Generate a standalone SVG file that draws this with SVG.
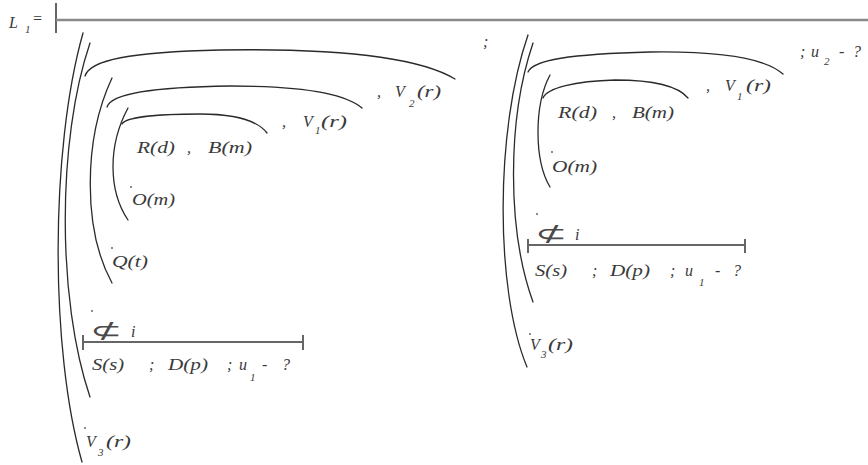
<svg xmlns="http://www.w3.org/2000/svg" width="868" height="465" viewBox="0 0 868 465">
<style>
  .t { font-family: "Liberation Serif", "DejaVu Serif", serif; font-style: italic; font-size: 16px; fill: #3a3a3a; }
  .s { font-family: "Liberation Serif", "DejaVu Serif", serif; font-style: italic; font-size: 11px; fill: #3a3a3a; }
  .sym { font-family: "DejaVu Sans", "Liberation Serif", sans-serif; font-style: italic; font-size: 22px; fill: #4a4a4a; }
  .arc { fill: none; stroke: #2a2a2a; stroke-width: 1.3; stroke-linecap: round; }
  .bar { fill: none; stroke: #666; stroke-width: 2; }
  .dot { fill: #555; }
</style>
<rect width="868" height="465" fill="#ffffff"/>

<g id="header">
  <text class="t" x="9" y="28" font-size="20">L</text>
  <text class="s" x="25" y="33">1</text>
  <text class="t" x="32" y="24" fill="#999">=</text>
  <line class="bar" x1="56" y1="3" x2="56" y2="33"/>
  <line x1="56" y1="20" x2="868" y2="20" stroke="#8a8a8a" stroke-width="2.5"/>
</g>

<g id="connectors">
  <!-- left structure -->
  <path class="arc" d="M83,33 C50,150 50,350 82,462"/>
  <path class="arc" d="M90,43 C57,140 57,300 90,397"/>
  <path class="arc" d="M85,76 C90,60 130,52 220,50 C340,48 420,58 455,79"/>
  <path class="arc" d="M112,78 C83,140 83,230 112,283"/>
  <path class="arc" d="M107,107 C111,94 150,87 230,86 C300,86 345,93 362,108"/>
  <path class="arc" d="M128,108 C108,145 108,190 128,220"/>
  <path class="arc" d="M122,124 C126,117 160,114 200,114 C235,114 257,120 267,133"/>
  <path class="bar" d="M83,342 H303 M83,335 V350 M303,335 V350"/>
  <!-- right structure -->
  <path class="arc" d="M528,35 C495,130 495,290 527,367"/>
  <path class="arc" d="M533,43 C507,120 507,230 533,302"/>
  <path class="arc" d="M528,72 C533,60 570,54 650,52 C720,51 765,58 783,74"/>
  <path class="arc" d="M550,75 C534,105 534,160 550,187"/>
  <path class="arc" d="M543,98 C547,88 575,81 615,80 C655,80 678,86 688,98"/>
  <path class="bar" d="M528,245 H745 M528,239 V253 M745,239 V253"/>
</g>

<g id="left-clause">
  <g id="l-v2">
    <text class="t" x="377" y="97">,</text>
    <text class="t" x="395" y="97">V</text>
    <text class="s" x="409" y="107">2</text>
    <text class="t" x="417" y="97" textLength="24" lengthAdjust="spacingAndGlyphs">(r)</text>
  </g>
  <g id="l-v1">
    <text class="t" x="282" y="127">,</text>
    <text class="t" x="303" y="127">V</text>
    <text class="s" x="315" y="134">1</text>
    <text class="t" x="321" y="127" textLength="26" lengthAdjust="spacingAndGlyphs">(r)</text>
  </g>
  <g id="l-rb">
    <text class="t" x="137" y="153" textLength="38" lengthAdjust="spacingAndGlyphs">R(d)</text>
    <text class="t" x="187" y="153">,</text>
    <text class="t" x="208" y="153" textLength="44" lengthAdjust="spacingAndGlyphs">B(m)</text>
  </g>
  <g id="l-om">
    <circle class="dot" cx="131" cy="187" r="0.9"/>
    <text class="t" x="132" y="205" textLength="43" lengthAdjust="spacingAndGlyphs">O(m)</text>
  </g>
  <g id="l-qt">
    <circle class="dot" cx="112" cy="248" r="0.9"/>
    <text class="t" x="112" y="267" textLength="36" lengthAdjust="spacingAndGlyphs">Q(t)</text>
  </g>
  <g id="l-nsub">
    <circle class="dot" cx="92" cy="311" r="0.9"/>
    <text class="sym" x="90" y="338" textLength="32" lengthAdjust="spacingAndGlyphs">⊄</text>
    <text class="t" x="131" y="337">i</text>
  </g>
  <g id="l-sd">
    <text class="t" x="92" y="370" textLength="32" lengthAdjust="spacingAndGlyphs">S(s)</text>
    <text class="t" x="149" y="370">;</text>
    <text class="t" x="168" y="370" textLength="40" lengthAdjust="spacingAndGlyphs">D(p)</text>
    <text class="t" x="227" y="370">;</text>
    <text class="t" x="239" y="370">u</text>
    <text class="s" x="250" y="381">1</text>
    <text class="t" x="262" y="370">-</text>
    <text class="t" x="282" y="370">?</text>
  </g>
  <g id="l-v3">
    <circle class="dot" cx="85" cy="428" r="0.9"/>
    <text class="t" x="86" y="447">V</text>
    <text class="s" x="98" y="456">3</text>
    <text class="t" x="106" y="447" textLength="25" lengthAdjust="spacingAndGlyphs">(r)</text>
  </g>
</g>

<g id="separator">
  <text class="t" x="483" y="47" fill="#888">;</text>
</g>

<g id="right-clause">
  <g id="r-u2">
    <text class="t" x="800" y="57">;</text>
    <text class="t" x="811" y="57">u</text>
    <text class="s" x="824" y="65">2</text>
    <text class="t" x="839" y="57">-</text>
    <text class="t" x="853" y="57">?</text>
  </g>
  <g id="r-v1">
    <text class="t" x="706" y="91">,</text>
    <text class="t" x="725" y="91">V</text>
    <text class="s" x="737" y="100">1</text>
    <text class="t" x="746" y="91" textLength="25" lengthAdjust="spacingAndGlyphs">(r)</text>
  </g>
  <g id="r-rb">
    <text class="t" x="558" y="118" textLength="39" lengthAdjust="spacingAndGlyphs">R(d)</text>
    <text class="t" x="612" y="118">,</text>
    <text class="t" x="632" y="118" textLength="42" lengthAdjust="spacingAndGlyphs">B(m)</text>
  </g>
  <g id="r-om">
    <circle class="dot" cx="552" cy="152" r="0.9"/>
    <text class="t" x="552" y="172" textLength="45" lengthAdjust="spacingAndGlyphs">O(m)</text>
  </g>
  <g id="r-nsub">
    <circle class="dot" cx="537" cy="214" r="0.9"/>
    <text class="sym" x="535" y="241" textLength="32" lengthAdjust="spacingAndGlyphs">⊄</text>
    <text class="t" x="575" y="240">i</text>
  </g>
  <g id="r-sd">
    <text class="t" x="535" y="276" textLength="32" lengthAdjust="spacingAndGlyphs">S(s)</text>
    <text class="t" x="592" y="276">;</text>
    <text class="t" x="610" y="276" textLength="40" lengthAdjust="spacingAndGlyphs">D(p)</text>
    <text class="t" x="670" y="276">;</text>
    <text class="t" x="685" y="276">u</text>
    <text class="s" x="699" y="286">1</text>
    <text class="t" x="715" y="276">-</text>
    <text class="t" x="733" y="276">?</text>
  </g>
  <g id="r-v3">
    <circle class="dot" cx="530" cy="334" r="0.9"/>
    <text class="t" x="530" y="350">V</text>
    <text class="s" x="541" y="358">3</text>
    <text class="t" x="548" y="350" textLength="25" lengthAdjust="spacingAndGlyphs">(r)</text>
  </g>
</g>
</svg>
